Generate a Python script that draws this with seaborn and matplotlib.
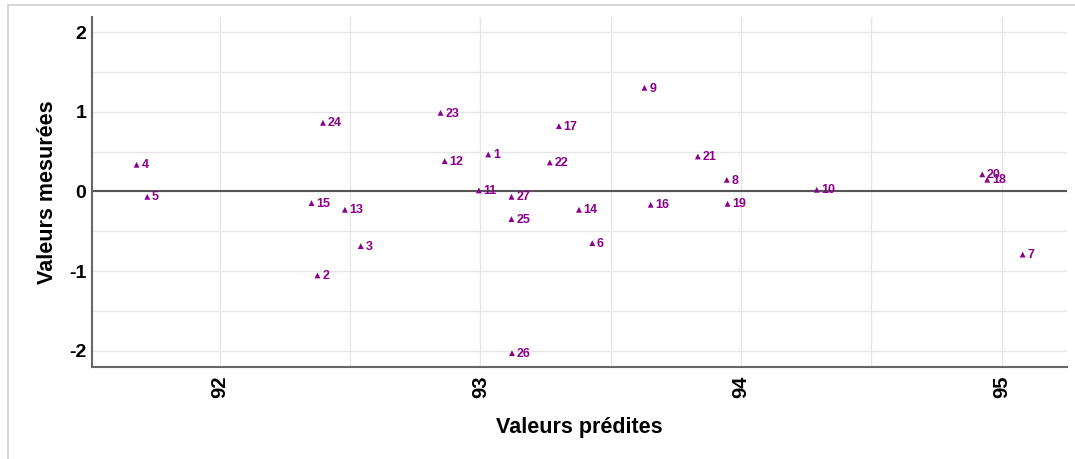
import matplotlib
matplotlib.use("Agg")
import matplotlib.pyplot as plt
import seaborn as sns
import pandas as pd
from matplotlib.ticker import MultipleLocator
from matplotlib.patches import Rectangle

# ---- data ----
ids = [str(i) for i in range(1, 28)]
predicted = [93.030, 92.375, 92.541, 91.681, 91.722, 93.429, 95.080, 93.945, 93.629,
             94.290, 92.994, 92.863, 92.480, 93.378, 92.352, 93.653, 93.301, 94.944,
             93.948, 94.925, 93.834, 93.266, 92.847, 92.396, 93.119, 93.121, 93.119]
measured = [0.464, -1.054, -0.686, 0.335, -0.067, -0.649, -0.792, 0.146, 1.301,
            0.021, 0.013, 0.381, -0.230, -0.230, -0.146, -0.167, 0.820, 0.148,
            -0.155, 0.215, 0.439, 0.364, 0.987, 0.862, -0.347, -2.030, -0.067]
x_label = "Valeurs prédites"
y_label = "Valeurs mesurées"

sns.set_style("white")
plt.rcParams['font.family'] = ['Liberation Sans', 'DejaVu Sans']
plt.rcParams['axes.unicode_minus'] = False
plt.rcParams['text.color'] = 'black'
plt.rcParams['axes.labelcolor'] = 'black'
plt.rcParams['xtick.color'] = 'black'
plt.rcParams['ytick.color'] = 'black'

W, H = 1075, 459
fig = plt.figure(figsize=(W / 100, H / 100), dpi=100)
ax = fig.add_axes([92 / W, 1 - 366.7 / H, (1067 - 92) / W, (366.7 - 17) / H])

purple = '#8B008B'
df = pd.DataFrame({'id': ids, 'pred': predicted, 'meas': measured})

ax.axhline(0, color='#555555', lw=1.5, zorder=2)
sns.scatterplot(data=df, x='pred', y='meas', marker='^', s=18, color=purple,
                edgecolor='none', linewidth=0, ax=ax, zorder=3)
for lab, xv, yv in zip(df['id'], df['pred'], df['meas']):
    ax.annotate(lab, (xv, yv), xytext=(3.4, -0.5), textcoords='offset points',
                ha='left', va='center', fontsize=9, fontweight='bold', color=purple,
                zorder=4)

ax.set_xlim(91.51, 95.25)
ax.set_ylim(-2.2, 2.19)
ax.xaxis.set_major_locator(MultipleLocator(1))
ax.xaxis.set_minor_locator(MultipleLocator(0.5))
ax.yaxis.set_major_locator(MultipleLocator(1))
ax.yaxis.set_minor_locator(MultipleLocator(0.5))
ax.grid(which='both', color='#e6e6e6', lw=1)
ax.set_axisbelow(True)

for s in ['top', 'right']:
    ax.spines[s].set_visible(False)
for s in ['left', 'bottom']:
    ax.spines[s].set_color('#666666')
    ax.spines[s].set_linewidth(1.5)

ax.tick_params(which='both', direction='inout', length=4, width=1, color='#222222')
ax.tick_params(axis='x', which='major', pad=4.5, labelsize=14.5, labelrotation=90)
ax.tick_params(axis='y', which='major', pad=2, labelsize=14)
for t in ax.get_xticklabels() + ax.get_yticklabels():
    t.set_fontweight('bold')

ax.set_xlabel(x_label, fontsize=15.5, fontweight='bold', labelpad=13.5)
ax.set_ylabel(y_label, fontsize=15.5, fontweight='bold', labelpad=8)

fig.patches.append(Rectangle((8 / W, -0.1), 1.2, 1 - 5 / H + 0.1, transform=fig.transFigure,
                             fill=False, ec='#d0d0d0', lw=1.2))

fig.savefig('out.png', dpi=100, facecolor='white')
